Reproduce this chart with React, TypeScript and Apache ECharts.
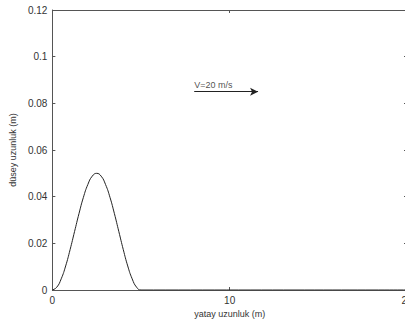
import React, { useEffect, useRef } from "react";
import * as echarts from "echarts";

// Horizontal position (m) and vertical displacement (m) of the bump
const xPos = [0, 0.25, 0.5, 0.75, 1, 1.25, 1.5, 1.75, 2, 2.25, 2.5, 2.75, 3, 3.25, 3.5, 3.75, 4, 4.25, 4.5, 4.75, 5, 20];
const yPos = [0, 0.0012, 0.0048, 0.0103, 0.0173, 0.025, 0.0327, 0.0397, 0.0452, 0.0488, 0.05, 0.0488, 0.0452, 0.0397, 0.0327, 0.025, 0.0173, 0.0103, 0.0048, 0.0012, 0, 0];

// Velocity arrow (start / end x, height) and its caption
const arrowX = [8, 11.6];
const arrowY = 0.085;
const arrowText = "V=20 m/s";

const xTicks = { min: 0, max: 20, interval: 10 };
const yTicks = { min: 0, max: 0.12, interval: 0.02 };

const FONT = "Liberation Sans, Arial, sans-serif";
const AXIS_COLOR = "#555";

export default function App() {
  const ref = useRef<HTMLDivElement>(null);

  useEffect(() => {
    if (!ref.current) return;
    const chart = echarts.init(ref.current, null, { renderer: "svg" });
    const line = { show: true, onZero: false, lineStyle: { color: AXIS_COLOR, width: 1 } };
    const tick = { show: true, inside: true, length: 3, lineStyle: { color: AXIS_COLOR } };
    chart.setOption({
      animation: false,
      backgroundColor: "#fff",
      grid: { left: 52, top: 10, width: 355, height: 280 },
      xAxis: [
        {
          type: "value",
          ...xTicks,
          position: "bottom",
          axisLine: line,
          axisTick: tick,
          splitLine: { show: false },
          axisLabel: { color: "#333", fontSize: 10, fontFamily: FONT, margin: 5 },
          name: "yatay uzunluk (m)",
          nameLocation: "middle",
          nameGap: 19,
          nameTextStyle: { color: "#333", fontSize: 9, fontFamily: FONT },
        },
        {
          type: "value",
          ...xTicks,
          position: "top",
          axisLine: line,
          axisTick: tick,
          splitLine: { show: false },
          axisLabel: { show: false },
        },
      ],
      yAxis: [
        {
          type: "value",
          ...yTicks,
          position: "left",
          axisLine: line,
          axisTick: tick,
          splitLine: { show: false },
          axisLabel: { color: "#333", fontSize: 10, fontFamily: FONT, margin: 5 },
          name: "düsey uzunluk (m)",
          nameLocation: "middle",
          nameGap: 30,
          nameTextStyle: { color: "#333", fontSize: 9, fontFamily: FONT },
        },
        {
          type: "value",
          ...yTicks,
          position: "right",
          axisLine: line,
          axisTick: tick,
          splitLine: { show: false },
          axisLabel: { show: false },
        },
      ],
      series: [
        {
          type: "line",
          data: xPos.map((x, i) => [x, yPos[i]]),
          showSymbol: false,
          smooth: true,
          lineStyle: { color: "#222", width: 1 },
          markLine: {
            silent: true,
            symbol: ["none", "arrow"],
            symbolSize: [6, 8],
            label: { show: false },
            lineStyle: { color: "#222", width: 1, type: "solid" },
            data: [[{ coord: [arrowX[0], arrowY] }, { coord: [arrowX[1], arrowY] }]],
          },
        },
        {
          type: "scatter",
          data: [[arrowX[0], arrowY]],
          symbolSize: 0,
          label: {
            show: true,
            formatter: arrowText,
            position: "top",
            align: "left",
            distance: 2,
            color: "#222",
            fontSize: 9,
            fontFamily: FONT,
          },
        },
      ],
    });
    return () => chart.dispose();
  }, []);

  return (
    <div
      ref={ref}
      style={{ position: "absolute", left: 0, top: 0, width: 430, height: 326 }}
    />
  );
}
